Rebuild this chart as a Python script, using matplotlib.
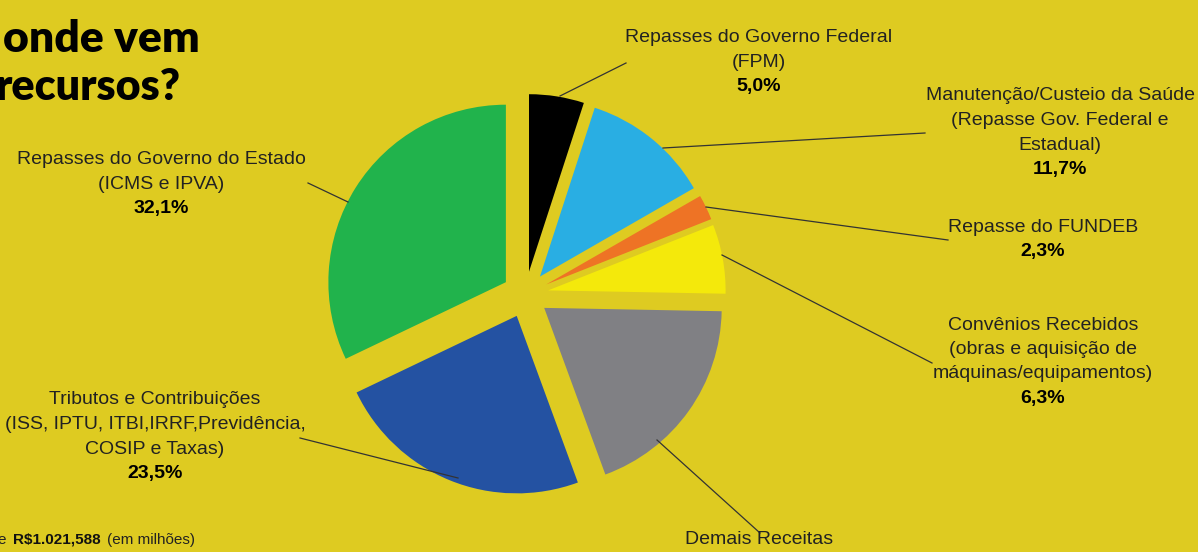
import matplotlib.pyplot as plt

# data
categorias = ['Repasses do Governo Federal\n(FPM)',
              'Manutenção/Custeio da Saúde\n(Repasse Gov. Federal e\nEstadual)',
              'Repasse do FUNDEB',
              'Convênios Recebidos\n(obras e aquisição de\nmáquinas/equipamentos)',
              'Demais Receitas',
              'Tributos e Contribuições\n(ISS, IPTU, ITBI,IRRF,Previdência,\nCOSIP e Taxas)',
              'Repasses do Governo do Estado\n(ICMS e IPVA)']
valores = [5.0, 11.7, 2.3, 6.3, 19.1, 23.5, 32.1]
cores = ['#000000', '#29AEE3', '#EE7325', '#F4E90B', '#808084', '#2452A2', '#21B34C']

# label placement in pixels (x center, y of first line), leader line (start, end)
label_pos = [(759, 38), (1060, 96), (1043, 227), (1043, 325), (759, 540), (155, 400), (161, 160)]
leader = [((560, 96), (626, 63)),
          ((663, 148), (925, 133)),
          ((706, 207), (948, 240)),
          ((722, 255), (932, 363)),
          ((657, 440), (760, 533)),
          ((300, 438), (458, 478)),
          ((308, 183), (348, 202))]

BG = '#DECB21'
W, H = 1198, 552
fig = plt.figure(figsize=(W/100, H/100), dpi=100, facecolor=BG)

# pie axes, square, centred on the pie
cx, cy, r = 525.4, 294.5, 177.5
half = 1.3*r
axp = fig.add_axes([(cx-half)/W, (H-cy-half)/H, 2*half/W, 2*half/H])
axp.pie(valores, colors=cores, startangle=90, counterclock=False,
        explode=[0.13]*len(valores), wedgeprops=dict(linewidth=0))
axp.set_xlim(-1.3, 1.3)
axp.set_ylim(-1.3, 1.3)
axp.axis('off')

# overlay in pixel coords for labels
ax = fig.add_axes([0, 0, 1, 1])
ax.set_xlim(0, W)
ax.set_ylim(H, 0)
ax.axis('off')
ax.patch.set_alpha(0)

fam = ['Liberation Sans', 'DejaVu Sans']
lh = 24.5
for cat, val, (x, y), (p0, p1) in zip(categorias, valores, label_pos, leader):
    linhas = cat.split('\n')
    for i, t in enumerate(linhas):
        ax.text(x, y + i*lh, t, ha='center', va='center', fontsize=14,
                color='#222222', family=fam, clip_on=False)
    ax.text(x, y + len(linhas)*lh, f'{val:.1f}%'.replace('.', ','), ha='center',
            va='center', fontsize=14, fontweight='bold', color='black',
            family=fam, clip_on=False)
    ax.plot([p0[0], p1[0]], [p0[1], p1[1]], color='#333333', lw=0.9)

# title (cut at the left in the original)
ax.text(3, 52, 'onde vem', ha='left', va='baseline', fontsize=32, fontweight='heavy',
        family=['Lato', 'DejaVu Sans'], color='black')
ax.text(-4, 100, 'recursos?', ha='left', va='baseline', fontsize=31, fontweight='heavy',
        family=['Lato', 'DejaVu Sans'], color='black')

# total
ax.text(-2, 540, 'e ', ha='left', va='center', fontsize=11,
        family=['Liberation Sans Narrow', 'Liberation Sans'], color='#222222')
ax.text(13, 540, 'R$1.021,588', ha='left', va='center', fontsize=11, fontweight='bold',
        family=['Liberation Sans Narrow', 'Liberation Sans'], color='#111111')
ax.text(107, 540, '(em milhões)', ha='left', va='center', fontsize=11,
        family=['Liberation Sans Narrow', 'Liberation Sans'], color='#222222')

fig.savefig('out.png', dpi=100, facecolor=BG)
